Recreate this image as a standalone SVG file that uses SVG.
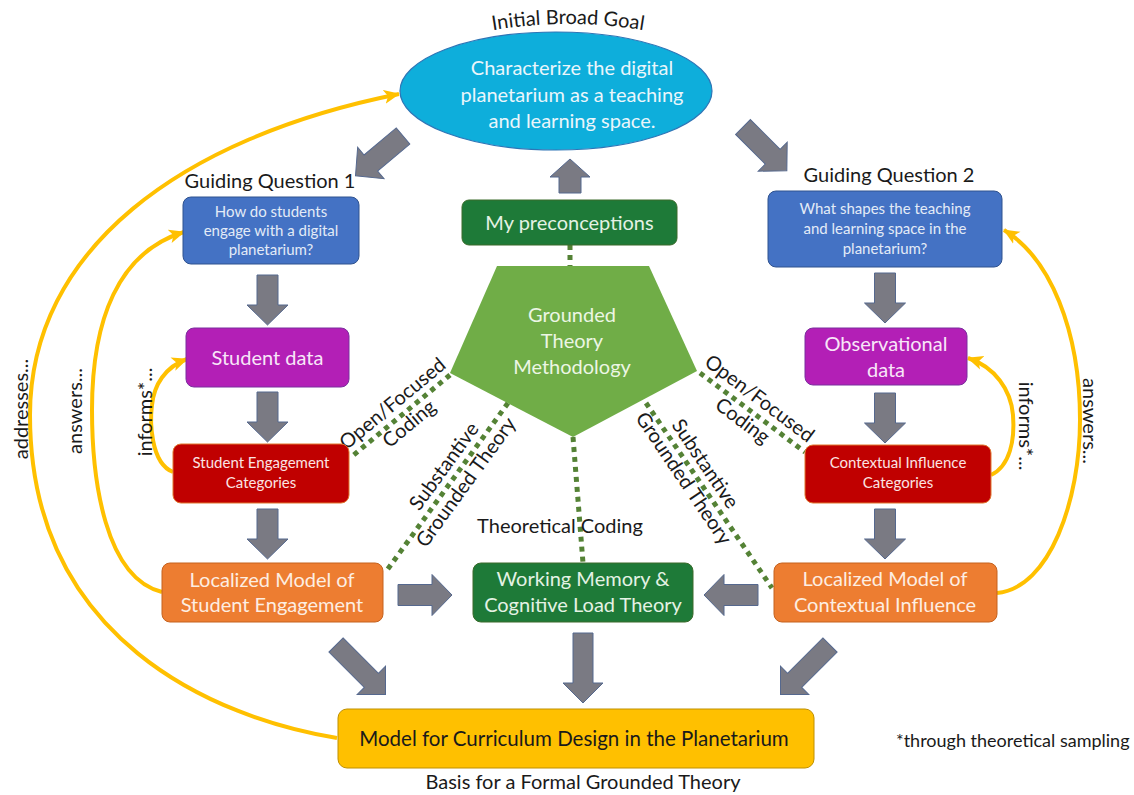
<svg xmlns="http://www.w3.org/2000/svg" width="1134" height="795" viewBox="0 0 1134 795">
<style>
text{font-family:Lato,"Open Sans","Liberation Sans",sans-serif;}
.lbl{font-size:20px;fill:#1a1a1a;}
.mid{text-anchor:middle;}
.big{font-size:20px;text-anchor:middle;}
.sm{font-size:15px;text-anchor:middle;}
.blk{fill:#7a7a83;stroke:#55688e;stroke-width:1;}
.dot{stroke:#548235;stroke-width:5;stroke-dasharray:5 5;fill:none;}
.arc{stroke:#ffc000;stroke-width:4;fill:none;marker-end:url(#yh);}
</style>
<defs>
  <marker id="yh" markerUnits="userSpaceOnUse" markerWidth="18" markerHeight="16" refX="15" refY="8" orient="auto">
    <path d="M0,1 L16,8 L0,15 L4,8 Z" fill="#ffc000"/>
  </marker>
  <!-- block arrows: tail centre at origin, pointing along +x -->
  <path id="a34" d="M0,-11 H16 V-20 L34,0 L16,20 V11 H0 Z"/>
  <path id="a50" d="M0,-10.5 H30 V-20.5 L50,0 L30,20.5 V10.5 H0 Z"/>
  <path id="a54" d="M0,-10.5 H34 V-20.5 L54,0 L34,20.5 V10.5 H0 Z"/>
  <path id="a62" d="M0,-10.5 H42 V-20.5 L62,0 L42,20.5 V10.5 H0 Z"/>
  <path id="a70" d="M0,-10 H50 V-20 L70,0 L50,20 V10 H0 Z"/>
  <path id="goalArc" d="M488,31 Q568,17 648,31"/>
</defs>

<rect width="1134" height="795" fill="#ffffff"/>

<g id="connectors">
  <!-- dotted coding links -->
  <line class="dot" x1="570" y1="245" x2="570" y2="266"/>
  <line class="dot" x1="450" y1="375" x2="350" y2="458"/>
  <line class="dot" x1="700" y1="373" x2="805" y2="452"/>
  <line class="dot" x1="508" y1="403" x2="385" y2="573"/>
  <line class="dot" x1="646" y1="403" x2="772" y2="588"/>
  <line class="dot" x1="573" y1="437" x2="583" y2="563"/>

  <!-- block arrows -->
  <use href="#a62" class="blk" transform="translate(403,136) rotate(140)"/>
  <use href="#a62" class="blk" transform="translate(743,127) rotate(45)"/>
  <use href="#a34" class="blk" transform="translate(570,193) rotate(-90)"/>
  <use href="#a50" class="blk" transform="translate(267.5,275) rotate(90)"/>
  <use href="#a50" class="blk" transform="translate(267.5,392) rotate(90)"/>
  <use href="#a50" class="blk" transform="translate(267.5,509) rotate(90)"/>
  <use href="#a50" class="blk" transform="translate(885,273) rotate(90)"/>
  <use href="#a50" class="blk" transform="translate(885,393) rotate(90)"/>
  <use href="#a50" class="blk" transform="translate(885,509) rotate(90)"/>
  <use href="#a54" class="blk" transform="translate(398,595)"/>
  <use href="#a54" class="blk" transform="translate(758,595) rotate(180)"/>
  <use href="#a70" class="blk" transform="translate(583,633) rotate(90)"/>
  <use href="#a70" class="blk" transform="translate(336,645) rotate(45)"/>
  <use href="#a70" class="blk" transform="translate(830,645) rotate(135)"/>

  <!-- feedback arcs -->
  <path class="arc" d="M337,738 C215,718 30,640 30,415 C30,250 180,138 399,94"/>
  <path class="arc" d="M162,592 C105,578 92,480 92,410 C92,320 118,252 184,232"/>
  <path class="arc" d="M173,472 C150,463 150,420 152,405 C154,385 165,367 187,359"/>
  <path class="arc" d="M991,475 C1010,466 1015,440 1013,415 C1011,390 995,367 968,358"/>
  <path class="arc" d="M997,593 C1050,588 1080,500 1080,420 C1080,330 1050,258 1004,230"/>

  <!-- link labels -->
  <g class="lbl mid">
    <g transform="translate(402,415) rotate(-39.7)">
      <text y="-8">Open/Focused</text><text y="18">Coding</text>
    </g>
    <g transform="translate(750,411) rotate(37)">
      <text y="-9">Open/Focused</text><text y="19">Coding</text>
    </g>
    <g transform="translate(456,475) rotate(-54)">
      <text y="-8">Substantive</text><text y="19">Grounded Theory</text>
    </g>
    <g transform="translate(693,472) rotate(56)">
      <text y="-8">Substantive</text><text y="18">Grounded Theory</text>
    </g>
    <text x="560" y="533">Theoretical Coding</text>
    <text transform="translate(28,409) rotate(-90)">addresses...</text>
    <text transform="translate(82,411) rotate(-90)">answers...</text>
    <text transform="translate(152,412) rotate(-90)">informs*...</text>
    <text transform="translate(1019,426) rotate(90)">informs*...</text>
    <text transform="translate(1083,421) rotate(90)">answers...</text>
  </g>
</g>

<g id="goal">
  <text class="lbl"><textPath href="#goalArc" startOffset="50%" text-anchor="middle">Initial Broad Goal</textPath></text>
  <ellipse cx="556" cy="91" rx="156" ry="59" fill="#0eaedb" stroke="#2e75b6" stroke-width="1.2"/>
  <g class="big" fill="#eaf6fb">
    <text x="572" y="75">Characterize the digital</text>
    <text x="572" y="102">planetarium as a teaching</text>
    <text x="572" y="128">and learning space.</text>
  </g>
</g>

<g id="preconceptions">
  <rect x="462" y="200" width="215" height="45" rx="7" fill="#1e7a38" stroke="#3a6b2a" stroke-width="1"/>
  <text class="big" x="569.5" y="230" fill="#e4f2e4">My preconceptions</text>
</g>

<g id="gtm">
  <polygon points="497,266 649,266 697,371 573,437 450,373" fill="#70ad47"/>
  <g class="big" fill="#ecf6e4">
    <text x="572" y="322">Grounded</text>
    <text x="572" y="348">Theory</text>
    <text x="572" y="374">Methodology</text>
  </g>
</g>

<g id="gq1">
  <text class="lbl mid" x="270" y="188">Guiding Question 1</text>
  <rect x="183" y="197" width="176" height="67" rx="8" fill="#4472c4" stroke="#2f528f" stroke-width="1"/>
  <g class="sm" fill="#e3ebf7">
    <text x="271" y="217">How do students</text>
    <text x="271" y="236">engage with a digital</text>
    <text x="271" y="255">planetarium?</text>
  </g>
</g>

<g id="student-data">
  <rect x="186" y="328" width="163" height="59" rx="8" fill="#b31fb6" stroke="#7b2f9e" stroke-width="1"/>
  <text class="big" x="267.5" y="365" fill="#f8e6f8">Student data</text>
</g>

<g id="se-categories">
  <rect x="173" y="444" width="176" height="59" rx="8" fill="#c00000" stroke="#e0762e" stroke-width="1"/>
  <g class="sm" fill="#fbe3e3">
    <text x="261" y="468">Student Engagement</text>
    <text x="261" y="488">Categories</text>
  </g>
</g>

<g id="lm-se">
  <rect x="162" y="563" width="221" height="59" rx="8" fill="#ed7d31" stroke="#c5621f" stroke-width="1"/>
  <g class="big" fill="#fdeee2">
    <text x="272" y="587">Localized Model of</text>
    <text x="272" y="612">Student Engagement</text>
  </g>
</g>

<g id="gq2">
  <text class="lbl mid" x="889" y="182">Guiding Question 2</text>
  <rect x="768" y="191" width="234" height="76" rx="8" fill="#4472c4" stroke="#2f528f" stroke-width="1"/>
  <g class="sm" fill="#e3ebf7">
    <text x="885" y="214">What shapes the teaching</text>
    <text x="885" y="234">and learning space in the</text>
    <text x="885" y="254">planetarium?</text>
  </g>
</g>

<g id="observational-data">
  <rect x="805" y="328" width="162" height="57" rx="8" fill="#b31fb6" stroke="#7b2f9e" stroke-width="1"/>
  <g class="big" fill="#f8e6f8">
    <text x="886" y="351">Observational</text>
    <text x="886" y="377">data</text>
  </g>
</g>

<g id="ci-categories">
  <rect x="805" y="445" width="186" height="58" rx="8" fill="#c00000" stroke="#e0762e" stroke-width="1"/>
  <g class="sm" fill="#fbe3e3">
    <text x="898" y="468">Contextual Influence</text>
    <text x="898" y="488">Categories</text>
  </g>
</g>

<g id="lm-ci">
  <rect x="774" y="563" width="223" height="59" rx="8" fill="#ed7d31" stroke="#c5621f" stroke-width="1"/>
  <g class="big" fill="#fdeee2">
    <text x="885" y="586">Localized Model of</text>
    <text x="885" y="612">Contextual Influence</text>
  </g>
</g>

<g id="wm-clt">
  <rect x="473" y="563" width="220" height="59" rx="8" fill="#1e7a38" stroke="#3a6b2a" stroke-width="1"/>
  <g class="big" fill="#e4f2e4">
    <text x="583" y="586">Working Memory &amp;</text>
    <text x="583" y="612">Cognitive Load Theory</text>
  </g>
</g>

<g id="curriculum-model">
  <rect x="338" y="709" width="476" height="59" rx="9" fill="#ffc000" stroke="#bf9000" stroke-width="1"/>
  <text class="big" x="574" y="746" fill="#1a1a1a" style="font-size:20.5px">Model for Curriculum Design in the Planetarium</text>
  <text class="lbl mid" x="583" y="789">Basis for a Formal Grounded Theory</text>
</g>

<text id="footnote" class="lbl" x="896" y="747" style="font-size:18px">*through theoretical sampling</text>
</svg>
